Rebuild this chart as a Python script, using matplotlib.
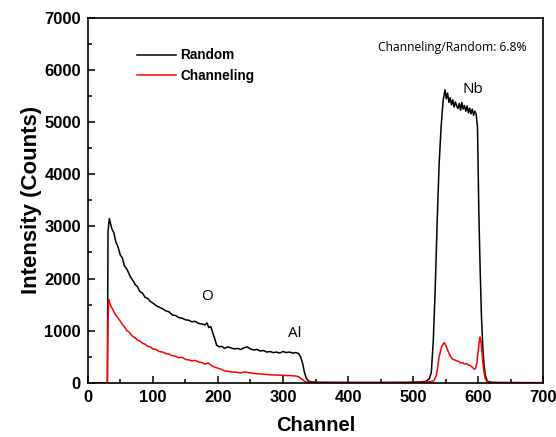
import matplotlib.pyplot as plt
from matplotlib.ticker import MultipleLocator

# channel positions and counts
ch_random = [0, 30, 31, 33, 35, 37, 40, 43, 46, 50, 53, 56, 60, 63, 66, 70, 73, 76, 80, 84,
             88, 92, 96, 100, 105, 110, 115, 120, 125, 130, 135, 140, 145, 150, 155, 160, 165,
             170, 175, 180, 183, 186, 189, 192, 195, 198, 202, 206, 210, 215, 220, 225, 230,
             235, 240, 245, 250, 255, 260, 265, 270, 275, 280, 285, 290, 295, 300, 305, 310,
             315, 320, 324, 327, 330, 333, 336, 340, 350, 370, 400, 430, 460, 490, 510, 520,
             525, 528, 531, 534, 537, 540, 543, 546, 549, 551, 553, 555, 557, 559, 561, 563,
             565, 567, 569, 571, 573, 575, 577, 579, 581, 583, 585, 587, 589, 591, 593, 595,
             597, 599, 601, 603, 605, 607, 609, 611, 614, 620, 630, 650, 680, 700]
random_counts = [0, 0, 2900, 3150, 3050, 2950, 2880, 2700, 2620, 2450, 2400, 2250, 2180, 2100,
                 2020, 1950, 1880, 1850, 1750, 1720, 1640, 1620, 1560, 1530, 1480, 1450, 1420,
                 1380, 1360, 1300, 1290, 1250, 1240, 1210, 1200, 1170, 1180, 1140, 1130, 1110,
                 1150, 1060, 1080, 960, 850, 720, 690, 700, 660, 690, 670, 650, 660, 640, 670,
                 690, 650, 630, 640, 610, 620, 590, 600, 580, 590, 570, 600, 580, 590, 570, 580,
                 560, 500, 380, 200, 80, 25, 10, 8, 6, 5, 6, 8, 15, 30,
                 80, 200, 800, 1800, 3100, 4200, 4900, 5400, 5620, 5450, 5560, 5380, 5470,
                 5330, 5430, 5290, 5390, 5310, 5260, 5360, 5230, 5380, 5250, 5320, 5210, 5310,
                 5180, 5270, 5160, 5250, 5130, 5210, 5150, 4900, 3300, 2200, 1300, 700, 350,
                 150, 30, 10, 5, 3, 2, 2]

ch_channel = [0, 30, 31, 32, 34, 36, 38, 40, 43, 46, 50, 53, 56, 60, 63, 66, 70, 73, 76, 80, 84,
              88, 92, 96, 100, 105, 110, 115, 120, 125, 130, 135, 140, 145, 150, 155, 160, 165,
              170, 175, 180, 185, 190, 195, 200, 205, 210, 215, 220, 225, 230, 235, 240, 245,
              250, 255, 260, 265, 270, 275, 280, 285, 290, 295, 300, 305, 310, 315, 320, 325,
              328, 331, 334, 337, 340, 350, 400, 450, 500, 520, 528, 532, 536, 540, 544, 546,
              548, 550, 552, 555, 558, 561, 564, 567, 570, 573, 576, 579, 582, 585, 588, 591,
              594, 596, 598, 600, 602, 603, 605, 607, 609, 611, 613, 616, 620, 640, 700]
channel_counts = [0, 0, 1200, 1600, 1520, 1450, 1420, 1360, 1300, 1250, 1180, 1120, 1080, 1000,
                  980, 930, 880, 860, 820, 800, 760, 740, 700, 690, 650, 640, 600, 590, 560, 550,
                  520, 510, 480, 490, 450, 440, 420, 430, 400, 390, 360, 380, 330, 300, 280, 260,
                  230, 220, 210, 205, 200, 190, 210, 200, 190, 180, 175, 170, 165, 160, 155, 150,
                  150, 145, 145, 140, 140, 135, 130, 110, 80, 50, 25, 12, 8, 5, 4, 4, 6, 15, 25,
                  40, 150, 500, 700, 740, 770, 730, 660, 570, 500, 450, 440, 420, 410, 380, 390,
                  360, 370, 340, 330, 300, 260, 280, 380, 600, 820, 880, 720, 420, 200, 80, 30, 10,
                  5, 3, 2]

fig = plt.figure(figsize=(5.56, 4.37), dpi=100)
ax = fig.add_axes([0.158, 0.124, 0.819, 0.835])

ax.plot(ch_random, random_counts, color="black", lw=1.1, label="Random")
ax.plot(ch_channel, channel_counts, color="red", lw=1.1, label="Channeling")

ax.set_xlim(0, 700); ax.set_ylim(0, 7000)
ax.xaxis.set_major_locator(MultipleLocator(100)); ax.xaxis.set_minor_locator(MultipleLocator(50))
ax.yaxis.set_major_locator(MultipleLocator(1000)); ax.yaxis.set_minor_locator(MultipleLocator(500))
ax.tick_params(which="both", direction="in", width=1.1)
ax.tick_params(which="major", length=5, pad=5)
ax.tick_params(which="minor", length=3)
for s in ax.spines.values(): s.set_linewidth(1.2)

bold = {"family": "Liberation Sans", "weight": "bold"}
for lab in ax.get_xticklabels() + ax.get_yticklabels():
    lab.set_fontfamily("Liberation Sans"); lab.set_fontweight("bold"); lab.set_fontsize(12)
ax.set_xlabel("Channel", fontsize=14.5, labelpad=8, **bold)
ax.set_ylabel("Intensity (Counts)", fontsize=16, labelpad=2, **bold)

leg = ax.legend(loc="upper left", bbox_to_anchor=(0.08, 0.95), frameon=False,
                handlelength=2.9, handletextpad=0.3, labelspacing=0.45,
                prop={"family": "Liberation Sans", "weight": "bold", "size": 9.8})

ax.text(446, 6430, "Channeling/Random: 6.8%", fontsize=8.7, family="Open Sans", va="center")
ax.text(592, 5630, "Nb", fontsize=11, family="Open Sans", ha="center", va="center")
ax.text(183, 1660, "O", fontsize=11, family="Open Sans", ha="center", va="center")
ax.text(318, 940, "Al", fontsize=11, family="Open Sans", ha="center", va="center")

fig.savefig("out.png")
